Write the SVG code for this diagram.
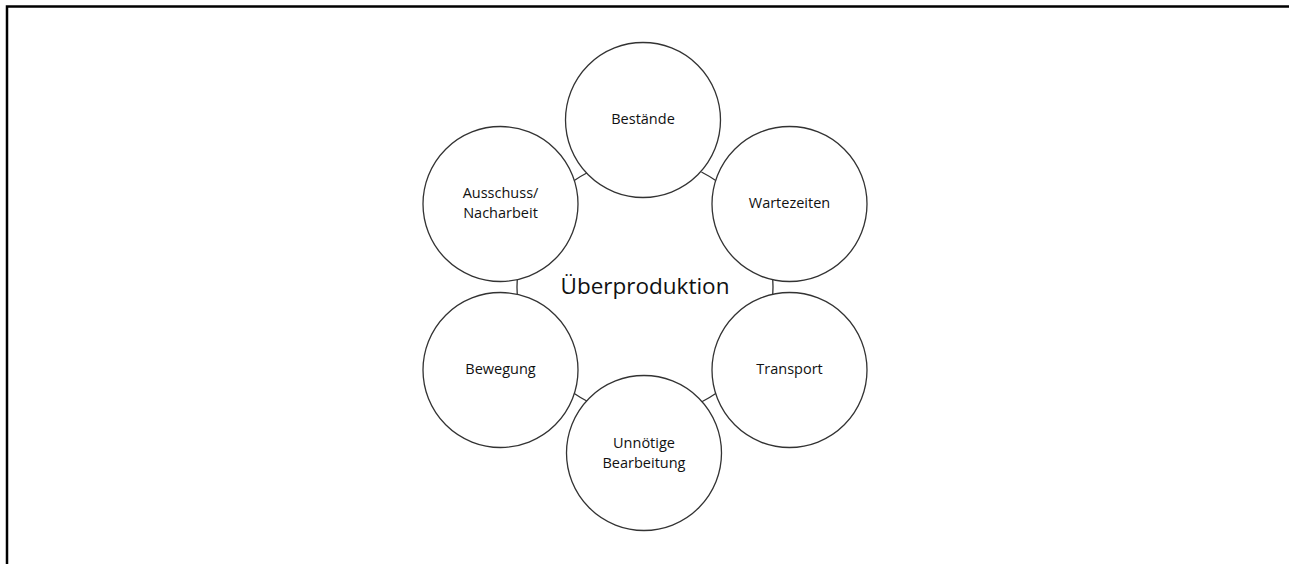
<svg xmlns="http://www.w3.org/2000/svg" width="1289" height="564" viewBox="0 0 1289 564">
  <style>
    .frame { fill: none; stroke: #000; stroke-width: 2.5; }
    .node circle { fill: #fff; stroke: #333; stroke-width: 1.3; }
    .conn path { fill: none; stroke: #333; stroke-width: 1.3; }
    .lbl { font-family: "Open Sans", "Liberation Sans", sans-serif; font-size: 14.5px; fill: #111; text-anchor: middle; }
    .center { font-family: "Open Sans", "Liberation Sans", sans-serif; font-size: 22.5px; fill: #111; text-anchor: middle; }
  </style>
  <rect width="1289" height="564" fill="#fff"/>
  <path class="frame" d="M7,564 L7,6.5 L1289,6.5"/>
  <g id="connectors" class="conn">
    <path d="M517.3,278.1 A128,128 0 0 0 517.3,295.9"/>
    <path d="M772.7,295.9 A128,128 0 0 0 772.7,278.1"/>
    <path d="M573.9,180.8 A128,128 0 0 1 588.6,172.0"/>
    <path d="M701.4,172.0 A128,128 0 0 1 716.1,180.8"/>
    <path d="M716.1,393.2 A128,128 0 0 1 701.4,402.0"/>
    <path d="M588.6,402.0 A128,128 0 0 1 573.9,393.2"/>
  </g>
  <text class="center" x="645" y="294">Überproduktion</text>
  <g id="node-bestaende" class="node">
    <circle cx="643" cy="120" r="77.5"/>
    <text class="lbl" x="643" y="124">Bestände</text>
  </g>
  <g id="node-wartezeiten" class="node">
    <circle cx="789.5" cy="204" r="77.5"/>
    <text class="lbl" x="789.5" y="208">Wartezeiten</text>
  </g>
  <g id="node-transport" class="node">
    <circle cx="789.5" cy="370" r="77.5"/>
    <text class="lbl" x="789.5" y="374">Transport</text>
  </g>
  <g id="node-unnoetige" class="node">
    <circle cx="644" cy="453" r="77.5"/>
    <text class="lbl" x="644" y="448">Unnötige</text>
    <text class="lbl" x="644" y="468">Bearbeitung</text>
  </g>
  <g id="node-bewegung" class="node">
    <circle cx="500.5" cy="370" r="77.5"/>
    <text class="lbl" x="500.5" y="374">Bewegung</text>
  </g>
  <g id="node-ausschuss" class="node">
    <circle cx="500.5" cy="204" r="77.5"/>
    <text class="lbl" x="500.5" y="198">Ausschuss/</text>
    <text class="lbl" x="500.5" y="218">Nacharbeit</text>
  </g>
</svg>
